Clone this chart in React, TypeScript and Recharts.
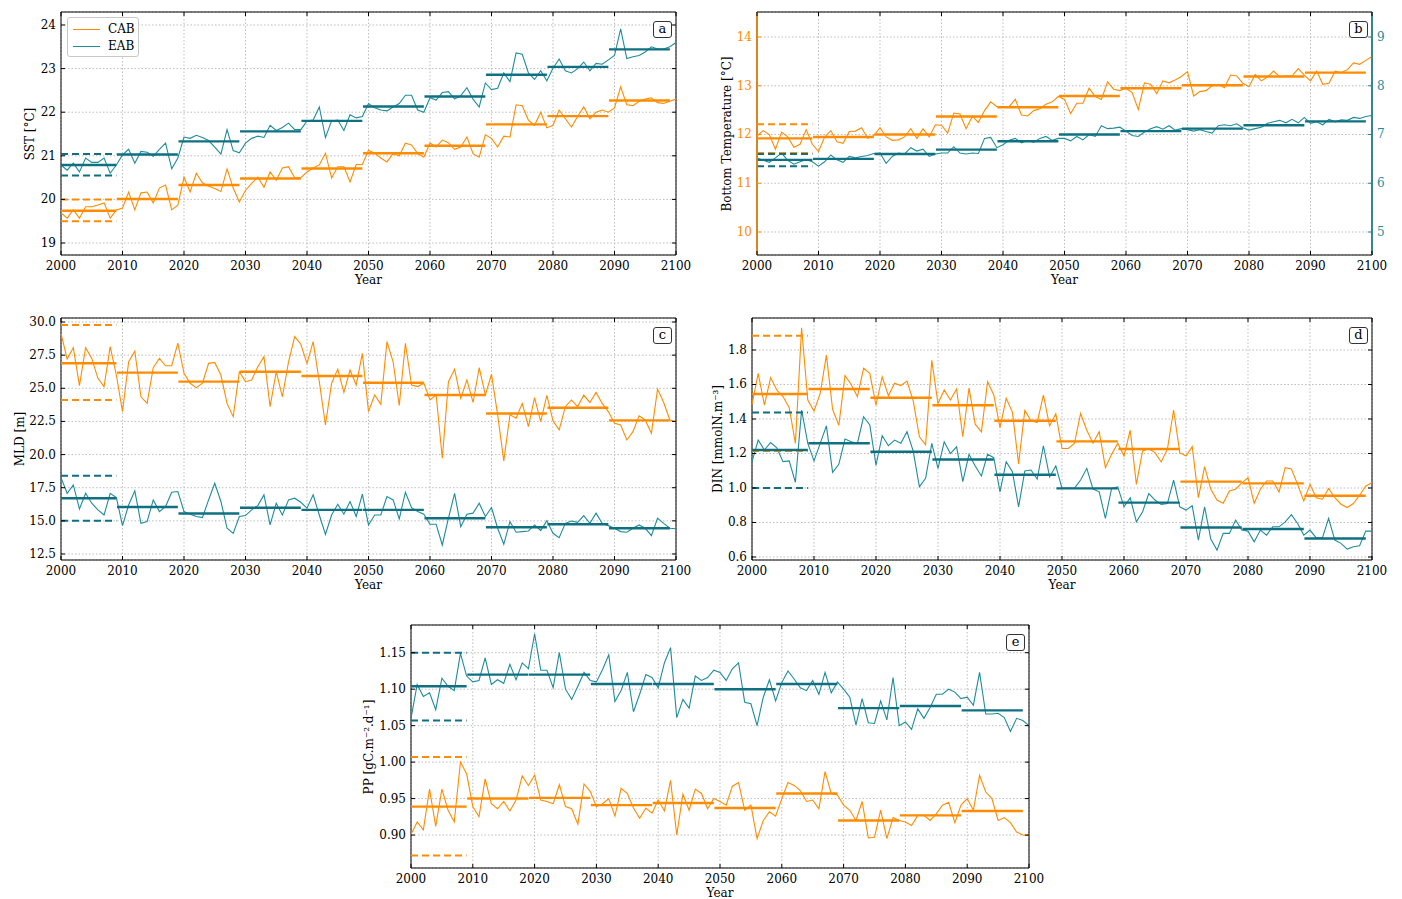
import {
  ComposedChart,
  Line,
  XAxis,
  YAxis,
  CartesianGrid,
  ReferenceLine,
  ReferenceArea,
} from "recharts";

const ORANGE = "#ff8c00";
const TEAL = "#1e8c9c";
const TEAL_DARK = "#0e7080";
const FONT = "'DejaVu Serif', 'Liberation Serif', serif";

// x categories
const YEARS = Array.from({ length: 101 }, (_, i) => 2000 + i);
const DECADES = [2000, 2010, 2020, 2030, 2040, 2050, 2060, 2070, 2080, 2090];
const YEAR_TICKS = [2000, 2010, 2020, 2030, 2040, 2050, 2060, 2070, 2080, 2090, 2100];

// (a) SST [°C]
const sstCAB = [
  19.69, 19.57, 19.76, 19.57, 19.83, 19.83, 19.87, 19.92, 19.57, 19.76,
  19.8, 20.17, 19.76, 20.15, 20.17, 19.92, 20.26, 20.33, 19.76, 19.87,
  20.51, 20.17, 20.6, 20.38, 20.3, 20.25, 20.18, 20.7, 20.26, 19.94,
  20.21, 20.37, 20.51, 20.28, 20.63, 20.44, 20.72, 20.75, 20.49, 20.5,
  20.63, 20.72, 20.79, 21.06, 20.49, 20.75, 20.75, 20.4, 20.8, 20.8,
  21.13, 21.06, 20.95, 20.86, 21.05, 21.0, 21.29, 21.25, 21.05, 20.97,
  21.29, 21.2, 21.36, 21.3, 21.15, 21.2, 21.43, 21.05, 20.97, 21.48,
  21.4, 21.2, 21.45, 21.43, 22.17, 22.15, 21.82, 21.7, 22.0, 21.64,
  21.7, 22.05, 21.85, 21.66, 21.9, 22.12, 21.85, 22.0, 22.05, 22.0,
  22.1, 22.58, 22.17, 22.15, 22.25, 22.3, 22.33, 22.22, 22.2, 22.25, 22.3,
];
const sstEAB = [
  20.79, 20.67, 20.83, 20.63, 20.95, 20.85, 20.85, 20.95, 20.6, 20.79,
  21.02, 21.15, 20.83, 21.1, 21.08, 20.99, 21.15, 21.29, 20.7, 20.95,
  21.43, 21.4, 21.47, 21.42, 21.35, 21.2, 21.04, 21.6, 21.12, 21.07,
  21.29, 21.4, 21.45, 21.42, 21.7, 21.58, 21.65, 21.75, 21.6, 21.6,
  21.8, 21.82, 22.12, 21.42, 21.8, 21.82, 21.58, 21.94, 21.87, 21.9,
  22.2, 22.1, 22.05, 22.03, 22.12, 22.2, 22.39, 22.39, 22.05, 22.0,
  22.33, 22.28, 22.45, 22.47, 22.3, 22.38, 22.56, 22.3, 22.12, 22.67,
  22.52, 22.55, 22.9, 22.7, 23.36, 23.33, 22.9, 22.75, 22.95, 22.72,
  23.01, 23.22, 22.95, 22.9, 23.0, 23.15, 22.95, 23.12, 23.1, 23.2,
  23.3, 23.91, 23.23, 23.27, 23.3, 23.38, 23.5, 23.45, 23.45, 23.5, 23.6,
];
const sstMeansCAB = [19.74, 20.01, 20.33, 20.48, 20.71, 21.06, 21.23, 21.72, 21.91, 22.27];
const sstMeansEAB = [20.79, 21.03, 21.33, 21.56, 21.8, 22.13, 22.36, 22.86, 23.04, 23.44];
const sstDashCAB = [20.0, 19.5];
const sstDashEAB = [21.04, 20.55];

// (b) Bottom temperature [°C]  (CAB left axis, EAB right axis)
const btCAB = [
  11.97, 12.08, 12.0, 11.7, 12.05, 11.95, 11.74, 11.8, 12.1, 11.8,
  11.65, 11.95, 12.08, 11.85, 11.82, 12.06, 12.07, 12.14, 11.92, 11.98,
  12.14, 11.95, 11.88, 11.89, 11.95, 12.12, 11.92, 12.12, 11.95, 12.2,
  12.19, 12.03, 12.44, 12.42, 12.12, 12.37, 12.25, 12.49, 12.67, 12.57,
  12.57, 12.57, 12.72, 12.4, 12.38, 12.49, 12.53, 12.62, 12.67, 12.78,
  12.72, 12.43, 12.64, 12.64, 12.95, 12.78, 12.72, 13.08, 12.93, 12.9,
  12.95, 12.86, 12.51, 13.06, 13.03, 12.84, 13.1, 13.06, 13.12, 13.19,
  13.29, 12.79, 12.88, 12.9, 13.0, 13.03, 12.96, 13.22, 13.2, 13.05,
  12.98, 13.23, 13.1, 13.18, 13.3, 13.18, 13.2, 13.2, 13.35, 13.22,
  13.1, 13.3, 13.03, 13.05, 13.3, 13.27, 13.33, 13.47, 13.44, 13.52, 13.6,
];
const btEAB = [
  6.52, 6.47, 6.43, 6.52, 6.62, 6.47, 6.39, 6.44, 6.48, 6.44,
  6.35, 6.44, 6.58, 6.48, 6.43, 6.55, 6.52, 6.55, 6.57, 6.61,
  6.62, 6.41, 6.55, 6.62, 6.6, 6.73, 6.66, 6.7, 6.55, 6.6,
  6.62, 6.62, 6.75, 6.62, 6.6, 6.62, 6.61, 6.92, 6.94, 6.73,
  6.79, 6.88, 6.92, 6.83, 6.88, 6.84, 6.92, 6.96, 6.88, 6.92,
  6.92, 6.87, 6.96, 6.89, 7.0, 6.96, 7.18, 7.12, 7.13, 7.15,
  7.07, 6.98, 6.96, 7.05, 7.12, 7.16, 7.11, 7.18, 7.09, 7.12,
  7.1, 7.07, 7.1, 7.06, 7.03, 7.18, 7.2, 7.18, 7.22, 7.14,
  7.09, 7.12, 7.15, 7.23, 7.26, 7.29, 7.24, 7.31, 7.24, 7.35,
  7.23, 7.26, 7.2, 7.31, 7.26, 7.3, 7.29, 7.35, 7.33, 7.37, 7.39,
];
const btMeansCAB = [11.92, 11.95, 12.0, 12.37, 12.56, 12.79, 12.95, 13.01, 13.19, 13.27];
const btMeansEAB = [6.48, 6.5, 6.6, 6.69, 6.86, 7.0, 7.07, 7.12, 7.19, 7.27];
const btDashCAB = [12.21, 11.62];
const btDashEAB = [6.6, 6.35];

// (c) MLD [m]
const mldCAB = [
  29.15, 27.21, 28.06, 25.2, 28.06, 27.25, 25.75, 25.13, 28.14, 26.0,
  23.24, 27.0, 27.8, 24.36, 23.86, 26.55, 27.25, 26.7, 26.7, 28.4,
  26.13, 25.38, 25.05, 25.38, 26.88, 26.95, 26.0, 23.86, 22.86, 26.25,
  25.5, 25.63, 26.63, 27.38, 23.61, 26.25, 24.36, 27.0, 28.9, 28.32,
  26.88, 28.52, 25.5, 22.23, 25.38, 26.45, 24.69, 26.38, 25.25, 27.63,
  23.24, 24.49, 23.79, 28.52, 27.0, 23.7, 28.4, 25.25, 25.13, 25.38,
  24.12, 24.49, 19.72, 25.5, 26.45, 24.24, 25.63, 23.93, 26.55, 24.49,
  26.06, 23.0, 19.52, 23.0, 22.74, 23.86, 22.1, 24.3, 22.49, 24.46,
  22.54, 21.86, 23.61, 24.12, 23.61, 24.49, 23.93, 24.69, 23.86, 23.24,
  22.36, 22.23, 21.1, 21.73, 22.92, 22.61, 21.61, 24.94, 23.93, 22.61, 22.5,
];
const mldEAB = [
  18.26, 17.08, 17.71, 15.9, 17.08, 16.33, 15.83, 15.44, 17.08, 16.76,
  14.64, 16.2, 17.26, 14.81, 14.94, 16.58, 15.7, 16.08, 17.16, 17.21,
  15.7, 15.5, 15.33, 15.25, 16.58, 17.84, 16.46, 14.44, 14.06, 15.33,
  15.4, 15.83, 16.15, 16.96, 14.69, 16.33, 15.44, 16.58, 16.71, 16.4,
  15.96, 16.96, 15.44, 13.98, 15.44, 16.25, 15.5, 16.46, 15.33, 17.01,
  14.69, 15.44, 15.44, 16.83, 16.58, 15.15, 17.16, 16.0, 15.7, 15.5,
  14.74, 14.74, 13.18, 15.2, 17.08, 14.56, 15.5, 15.58, 16.33, 15.33,
  16.0, 14.44, 13.23, 14.94, 14.14, 14.19, 14.24, 14.69, 14.27, 15.02,
  14.06, 13.73, 14.81, 14.99, 14.89, 15.4, 14.81, 15.58, 14.81, 14.64,
  14.44, 14.19, 14.14, 14.44, 14.69, 14.44, 13.88, 15.2, 14.81, 14.44, 14.4,
];
const mldMeansCAB = [26.89, 26.18, 25.5, 26.25, 25.93, 25.42, 24.49, 23.1, 23.53, 22.58];
const mldMeansEAB = [16.7, 16.05, 15.55, 15.99, 15.83, 15.83, 15.2, 14.52, 14.74, 14.44];
const mldDashCAB = [29.77, 24.12];
const mldDashEAB = [18.41, 15.01];

// (d) DIN [mmolN.m-3]
const dinCAB = [
  1.485, 1.665, 1.48, 1.64, 1.568, 1.53, 1.466, 1.259, 1.929, 1.51,
  1.446, 1.548, 1.77, 1.456, 1.363, 1.652, 1.6, 1.53, 1.694, 1.665,
  1.48, 1.645, 1.535, 1.607, 1.594, 1.62, 1.505, 1.297, 1.25, 1.74,
  1.49, 1.568, 1.51, 1.574, 1.297, 1.58, 1.37, 1.325, 1.616, 1.539,
  1.35, 1.52, 1.44, 1.14, 1.45, 1.39, 1.38, 1.539, 1.36, 1.43,
  1.229, 1.229, 1.258, 1.432, 1.335, 1.26, 1.326, 1.118, 1.195, 1.26,
  1.185, 1.335, 1.021, 1.215, 1.228, 1.205, 1.151, 1.225, 1.452, 1.205,
  1.185, 1.24, 0.944, 1.124, 0.993, 0.93, 0.912, 0.983, 0.993, 1.03,
  1.059, 0.912, 0.993, 1.041, 1.041, 0.977, 1.118, 1.11, 1.021, 0.925,
  1.021, 0.944, 0.935, 0.997, 0.944, 0.906, 0.887, 0.91, 0.958, 1.012, 1.03,
];
const dinEAB = [
  1.153, 1.278, 1.22, 1.264, 1.233, 1.153, 1.157, 1.033, 1.452, 1.259,
  1.157, 1.259, 1.36, 1.091, 1.137, 1.284, 1.268, 1.259, 1.413, 1.365,
  1.133, 1.303, 1.245, 1.278, 1.259, 1.326, 1.214, 1.007, 1.056, 1.259,
  1.114, 1.268, 1.2, 1.239, 1.037, 1.195, 1.128, 1.07, 1.195, 1.176,
  0.978, 1.153, 1.095, 0.891, 1.099, 1.104, 1.052, 1.245, 1.064, 1.128,
  0.998, 1.0, 0.998, 1.046, 1.114, 0.994, 0.978, 0.824, 0.998, 1.007,
  0.891, 0.943, 0.804, 0.862, 0.968, 0.93, 0.905, 0.91, 1.046, 0.891,
  0.872, 0.897, 0.698, 0.891, 0.704, 0.64, 0.737, 0.737, 0.814, 0.756,
  0.75, 0.688, 0.756, 0.727, 0.775, 0.775, 0.804, 0.846, 0.794, 0.727,
  0.756, 0.711, 0.711, 0.824, 0.698, 0.679, 0.646, 0.659, 0.665, 0.75, 0.75,
];
const dinMeansCAB = [1.545, 1.574, 1.523, 1.48, 1.39, 1.27, 1.226, 1.037, 1.027, 0.955];
const dinMeansEAB = [1.22, 1.259, 1.21, 1.165, 1.077, 0.998, 0.915, 0.771, 0.762, 0.707];
const dinDashCAB = [1.883, 1.214];
const dinDashEAB = [1.437, 1.0];

// (e) PP [gC.m-2.d-1]
const ppCAB = [
  0.901, 0.918, 0.907, 0.963, 0.912, 0.963, 0.934, 0.918, 1.0, 0.984,
  0.939, 0.925, 0.977, 0.943, 0.936, 0.946, 0.933, 0.948, 0.981, 0.968,
  0.982, 0.948, 0.946, 0.943, 0.969, 0.939, 0.936, 0.915, 0.97, 0.96,
  0.939, 0.943, 0.95, 0.926, 0.964, 0.957, 0.937, 0.923, 0.937, 0.93,
  0.948, 0.933, 0.975, 0.9, 0.956, 0.934, 0.963, 0.957, 0.936, 0.95,
  0.946, 0.941, 0.967, 0.972, 0.934, 0.941, 0.895, 0.92, 0.932, 0.926,
  0.95, 0.972, 0.968, 0.961, 0.946, 0.948, 0.936, 0.987, 0.957, 0.955,
  0.941, 0.934, 0.92, 0.946, 0.896, 0.897, 0.934, 0.895, 0.924, 0.92,
  0.918, 0.913, 0.927, 0.927, 0.92, 0.929, 0.941, 0.945, 0.917, 0.941,
  0.95, 0.934, 0.982, 0.959, 0.95, 0.92, 0.924, 0.917, 0.904, 0.9, 0.899,
];
const ppEAB = [
  1.06, 1.1065, 1.09, 1.095, 1.072, 1.115, 1.104, 1.098, 1.149, 1.118,
  1.11, 1.112, 1.143, 1.1065, 1.113, 1.108, 1.134, 1.113, 1.136, 1.128,
  1.176, 1.126, 1.126, 1.102, 1.15, 1.1, 1.086, 1.104, 1.123, 1.112,
  1.11, 1.127, 1.147, 1.083, 1.098, 1.123, 1.069, 1.093, 1.12, 1.116,
  1.102, 1.136, 1.157, 1.061, 1.086, 1.074, 1.118, 1.112, 1.116, 1.126,
  1.123, 1.112, 1.128, 1.136, 1.082, 1.08, 1.05, 1.089, 1.113, 1.084,
  1.109, 1.125, 1.114, 1.102, 1.098, 1.112, 1.093, 1.123, 1.095, 1.11,
  1.1, 1.089, 1.051, 1.087, 1.054, 1.053, 1.084, 1.058, 1.116, 1.05,
  1.055, 1.045, 1.073, 1.06, 1.075, 1.093, 1.093, 1.1, 1.096, 1.087,
  1.089, 1.078, 1.123, 1.066, 1.066, 1.067, 1.061, 1.042, 1.06, 1.057, 1.05,
];
const ppMeansCAB = [0.939, 0.95, 0.951, 0.941, 0.944, 0.937, 0.957, 0.92, 0.927, 0.933];
const ppMeansEAB = [1.104, 1.12, 1.12, 1.107, 1.107, 1.1, 1.107, 1.074, 1.077, 1.071];
const ppDashCAB = [1.007, 0.872];
const ppDashEAB = [1.15, 1.057];

const TOP = 5;
const BOTTOM = 40;
const RIGHT = 30;

type PanelProps = {
  plotX: number;
  plotY: number;
  plotW: number;
  plotH: number;
  yw: number;
  domain: [number, number];
  ticks: number[];
  fmt: (v: number) => string;
  cab: number[];
  eab: number[];
  cabMeans: number[];
  eabMeans: number[];
  cabDash: number[];
  eabDash: number[];
  right?: { domain: [number, number]; ticks: number[] };
  letter: string;
  ylabel: string;
  ylabelX: number;
};

const segStart = (i: number) => (i === 0 ? DECADES[0] : DECADES[i] - 0.9);

function Panel(p: PanelProps) {
  const data = YEARS.map((year, i) => ({ year, cab: p.cab[i], eab: p.eab[i] }));
  const plotRight = p.yw + p.plotW;
  const eabAxis = p.right ? "r" : 0;
  const leftColor = p.right ? ORANGE : "#000";

  const xTick = (props: any) => {
    const { x, y, payload } = props;
    return (
      <g>
        <line x1={x} x2={x} y1={y} y2={y - 4} stroke="#000" />
        <line x1={x} x2={x} y1={TOP} y2={TOP + 4} stroke="#000" />
        <text x={x} y={y + 15} textAnchor="middle" fontSize={12} fill="#000">
          {payload.value}
        </text>
      </g>
    );
  };

  const yTick = (props: any) => {
    const { x, y, payload } = props;
    return (
      <g>
        <line x1={x} x2={x + 4} y1={y} y2={y} stroke={leftColor} />
        {!p.right && <line x1={plotRight} x2={plotRight - 4} y1={y} y2={y} stroke="#000" />}
        <text x={x - 5} y={y + 4} textAnchor="end" fontSize={12} fill={leftColor}>
          {p.fmt(payload.value)}
        </text>
      </g>
    );
  };

  const rTick = (props: any) => {
    const { x, y, payload } = props;
    return (
      <g>
        <line x1={x} x2={x - 4} y1={y} y2={y} stroke={TEAL} />
        <text x={x + 5} y={y + 4} textAnchor="start" fontSize={12} fill={TEAL}>
          {payload.value}
        </text>
      </g>
    );
  };

  return (
    <>
      <div style={{ position: "absolute", left: p.plotX - p.yw, top: p.plotY - TOP }}>
        <ComposedChart
          width={p.yw + p.plotW + RIGHT}
          height={TOP + p.plotH + BOTTOM}
          data={data}
          margin={{ top: TOP, right: p.right ? 0 : RIGHT, bottom: 0, left: 0 }}
          style={{ fontFamily: FONT }}
        >
          <CartesianGrid stroke="#bdbdbd" strokeDasharray="1.5 2" />
          <XAxis
            dataKey="year"
            type="number"
            domain={[2000, 2100]}
            ticks={YEAR_TICKS}
            interval={0}
            height={BOTTOM}
            axisLine={false}
            tickLine={false}
            tickSize={0}
            tickMargin={0}
            tick={xTick}
            label={{ value: "Year", position: "insideBottom", offset: 11, fill: "#000", fontSize: 12 }}
          />
          <YAxis
            type="number"
            domain={p.domain}
            ticks={p.ticks}
            allowDataOverflow
            interval={0}
            width={p.yw}
            axisLine={false}
            tickLine={false}
            tickSize={0}
            tickMargin={0}
            tick={yTick}
          />
          {p.right && (
            <YAxis
              yAxisId="r"
              orientation="right"
              type="number"
              domain={p.right.domain}
              ticks={p.right.ticks}
              allowDataOverflow
              interval={0}
              width={RIGHT}
              axisLine={false}
              tickLine={false}
              tickSize={0}
              tickMargin={0}
              tick={rTick}
            />
          )}
          <Line type="linear" dataKey="cab" stroke={ORANGE} strokeWidth={1.1} dot={false} isAnimationActive={false} />
          <Line type="linear" dataKey="eab" yAxisId={eabAxis} stroke={TEAL} strokeWidth={1.1} dot={false} isAnimationActive={false} />
          {p.cabDash.map((v, i) => (
            <ReferenceLine key={"cd" + i} segment={[{ x: 2000, y: v }, { x: 2009, y: v }]} stroke={ORANGE} strokeWidth={2} strokeDasharray="7 4" />
          ))}
          {p.eabDash.map((v, i) => (
            <ReferenceLine key={"ed" + i} yAxisId={eabAxis} segment={[{ x: 2000, y: v }, { x: 2009, y: v }]} stroke={TEAL_DARK} strokeWidth={2} strokeDasharray="7 4" />
          ))}
          {p.cabMeans.map((v, i) => (
            <ReferenceLine key={"cm" + i} segment={[{ x: segStart(i), y: v }, { x: DECADES[i] + 9, y: v }]} stroke={ORANGE} strokeWidth={2.4} />
          ))}
          {p.eabMeans.map((v, i) => (
            <ReferenceLine key={"em" + i} yAxisId={eabAxis} segment={[{ x: segStart(i), y: v }, { x: DECADES[i] + 9, y: v }]} stroke={TEAL_DARK} strokeWidth={2.4} />
          ))}
          <ReferenceArea x1={2000} x2={2100} y1={p.domain[0]} y2={p.domain[1]} fill="none" stroke="#000" strokeWidth={1} />
          {p.right && <ReferenceLine x={2000} stroke={ORANGE} strokeWidth={1.4} />}
          {p.right && <ReferenceLine x={2100} stroke={TEAL} strokeWidth={1.4} />}
        </ComposedChart>
      </div>
      {/* y title */}
      <div
        style={{
          position: "absolute",
          left: p.ylabelX,
          top: p.plotY + p.plotH / 2,
          transform: "translate(-50%, -50%) rotate(-90deg)",
          whiteSpace: "nowrap",
          fontFamily: FONT,
          fontSize: 12,
          color: "#000",
        }}
      >
        {p.ylabel}
      </div>
      {/* panel letter */}
      <div
        style={{
          position: "absolute",
          left: p.plotX + p.plotW - 23,
          top: p.plotY + 9,
          width: 17,
          height: 15,
          border: "1.3px solid #333",
          borderRadius: 3,
          background: "#fff",
          fontFamily: FONT,
          fontSize: 13,
          lineHeight: "14px",
          textAlign: "center",
          color: "#000",
        }}
      >
        {p.letter}
      </div>
    </>
  );
}

const LegendBox = () => (
  <div
    style={{
      position: "absolute",
      left: 67,
      top: 17,
      width: 70,
      height: 38,
      border: "1px solid #c8c8c8",
      borderRadius: 3,
      background: "#fff",
      fontFamily: FONT,
      fontSize: 12,
      color: "#000",
    }}
  >
    {[
      { name: "CAB", color: ORANGE },
      { name: "EAB", color: TEAL },
    ].map((s, i) => (
      <div key={s.name} style={{ position: "absolute", left: 5, top: 3 + i * 17, height: 16, display: "flex", alignItems: "center" }}>
        <span style={{ display: "inline-block", width: 27, height: 0, borderTop: `1.4px solid ${s.color}`, marginRight: 8 }} />
        <span>{s.name}</span>
      </div>
    ))}
  </div>
);

export default function App() {
  return (
    <div style={{ position: "absolute", left: 0, top: 0, width: 1402, height: 899, background: "#fff" }}>
      <Panel
        plotX={61} plotY={12} plotW={615} plotH={243} yw={61}
        domain={[18.725, 24.298]} ticks={[19, 20, 21, 22, 23, 24]} fmt={(v) => String(v)}
        cab={sstCAB} eab={sstEAB} cabMeans={sstMeansCAB} eabMeans={sstMeansEAB}
        cabDash={sstDashCAB} eabDash={sstDashEAB}
        letter="a" ylabel="SST [°C]" ylabelX={30}
      />
      <Panel
        plotX={757} plotY={12} plotW={615} plotH={243} yw={50}
        domain={[9.528, 14.513]} ticks={[10, 11, 12, 13, 14]} fmt={(v) => String(v)}
        right={{ domain: [4.528, 9.513], ticks: [5, 6, 7, 8, 9] }}
        cab={btCAB} eab={btEAB} cabMeans={btMeansCAB} eabMeans={btMeansEAB}
        cabDash={btDashCAB} eabDash={btDashEAB}
        letter="b" ylabel="Bottom Temperature [°C]" ylabelX={727}
      />
      <Panel
        plotX={61} plotY={318} plotW={615} plotH={242} yw={61}
        domain={[12.047, 30.302]} ticks={[12.5, 15, 17.5, 20, 22.5, 25, 27.5, 30]} fmt={(v) => v.toFixed(1)}
        cab={mldCAB} eab={mldEAB} cabMeans={mldMeansCAB} eabMeans={mldMeansEAB}
        cabDash={mldDashCAB} eabDash={mldDashEAB}
        letter="c" ylabel="MLD [m]" ylabelX={20}
      />
      <Panel
        plotX={752} plotY={318} plotW={620} plotH={242} yw={50}
        domain={[0.5826, 1.9855]} ticks={[0.6, 0.8, 1.0, 1.2, 1.4, 1.6, 1.8]} fmt={(v) => v.toFixed(1)}
        cab={dinCAB} eab={dinEAB} cabMeans={dinMeansCAB} eabMeans={dinMeansEAB}
        cabDash={dinDashCAB} eabDash={dinDashEAB}
        letter="d" ylabel="DIN [mmolN.m⁻³]" ylabelX={718}
      />
      <Panel
        plotX={411} plotY={625} plotW={618} plotH={243} yw={60}
        domain={[0.8548, 1.188]} ticks={[0.9, 0.95, 1.0, 1.05, 1.1, 1.15]} fmt={(v) => v.toFixed(2)}
        cab={ppCAB} eab={ppEAB} cabMeans={ppMeansCAB} eabMeans={ppMeansEAB}
        cabDash={ppDashCAB} eabDash={ppDashEAB}
        letter="e" ylabel="PP [gC.m⁻².d⁻¹]" ylabelX={369}
      />
      <LegendBox />
    </div>
  );
}
